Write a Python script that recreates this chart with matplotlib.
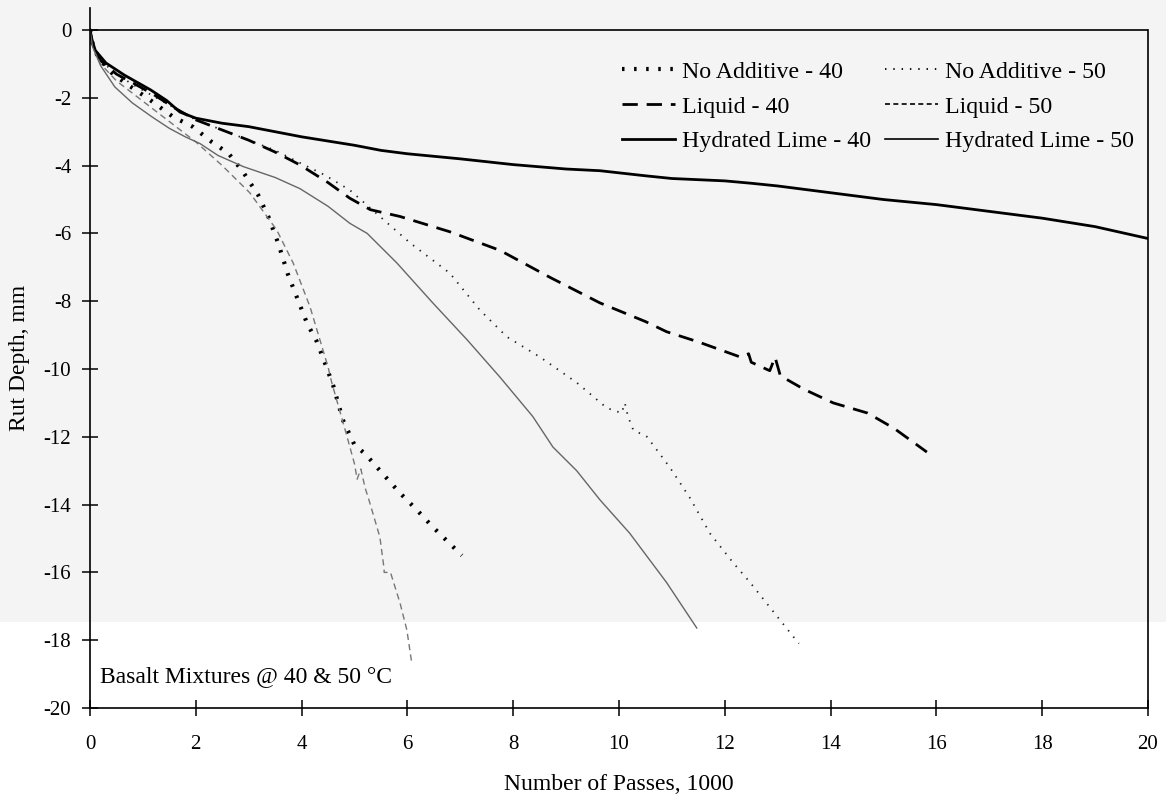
import matplotlib
matplotlib.use("Agg")
import matplotlib.pyplot as plt
from matplotlib.patches import Rectangle
from matplotlib.lines import Line2D

plt.rcParams['font.family'] = ['Liberation Serif', 'DejaVu Serif']
plt.rcParams['axes.unicode_minus'] = False

# ---- data (x in 1000 passes, y = rut depth in mm) ----
na40_x = [0, 0.05, 0.15, 0.4, 0.7, 1.08, 1.57, 1.95, 2.3, 2.62, 2.9, 3.18, 3.37, 3.56, 3.74,
          3.93, 4.1, 4.29, 4.44, 4.6, 4.78, 5.0, 5.2, 5.54, 5.86, 6.18, 6.48, 7.03]
na40_y = [0, -0.4, -0.8, -1.25, -1.6, -2.0, -2.56, -2.86, -3.3, -3.64, -4.2, -4.87, -5.5, -6.3, -7.2,
          -7.96, -8.64, -9.2, -9.82, -10.5, -11.5, -12.24, -12.5, -13.1, -13.66, -14.16, -14.66, -15.5]

na50_x = [0, 0.05, 0.2, 0.5, 0.8, 1.2, 1.6, 2.0, 2.5, 3.0, 3.5, 3.97, 4.44, 4.91, 5.48, 6.05, 6.8,
          7.37, 7.88, 8.5, 9.2, 9.77, 10.05, 10.11, 10.17, 10.27, 10.53, 10.96, 11.34, 11.72,
          12.15, 12.48, 12.99, 13.4]
na50_y = [0, -0.45, -0.9, -1.3, -1.6, -1.95, -2.3, -2.65, -2.95, -3.25, -3.55, -3.92, -4.28, -4.72,
          -5.5, -6.28, -7.17, -8.26, -9.05, -9.64, -10.4, -11.15, -11.3, -11.0, -11.4, -11.8, -12.0,
          -12.9, -13.8, -14.85, -15.7, -16.3, -17.3, -18.1]

liq40_x = [0, 0.05, 0.2, 0.5, 0.8, 1.2, 1.6, 2.0, 2.5, 3.0, 3.5, 3.97, 4.5, 4.91, 5.3, 5.86, 6.8,
           7.75, 8.7, 9.64, 10.5, 10.9, 11.5, 12.3, 12.45, 12.5, 12.85, 12.95, 13.05, 13.5, 14.05,
           14.7, 15.2, 15.82]
liq40_y = [0, -0.45, -0.9, -1.3, -1.55, -1.9, -2.3, -2.65, -2.95, -3.25, -3.6, -3.98, -4.5, -4.96,
           -5.3, -5.5, -5.95, -6.5, -7.3, -8.05, -8.6, -8.9, -9.2, -9.65, -9.55, -9.8, -10.05,
           -9.65, -10.2, -10.6, -11.0, -11.3, -11.75, -12.45]

liq50_x = [0, 0.05, 0.2, 0.5, 1.0, 1.5, 2.0, 2.5, 3.02, 3.53, 3.84, 4.16, 4.5, 4.57, 4.86, 5.0,
           5.05, 5.12, 5.2, 5.29, 5.48, 5.56, 5.56, 5.68, 5.86, 5.99, 6.08]
liq50_y = [0, -0.5, -1.0, -1.5, -2.1, -2.7, -3.3, -4.0, -4.8, -5.9, -6.87, -8.17, -9.94, -10.4,
           -12.0, -12.8, -13.25, -12.95, -13.5, -13.95, -14.96, -15.9, -16.0, -16.0, -16.9, -17.7,
           -18.65]

hl40_x = [0, 0.04, 0.1, 0.3, 0.65, 1.15, 1.45, 1.7, 2.0, 2.5, 3.0, 3.5, 4.0, 5.0, 5.5, 6.0, 7.0,
          8.0, 9.0, 9.64, 10.5, 11.0, 12.0, 12.5, 13.0, 14.0, 15.0, 16.0, 17.0, 18.0, 19.0, 20.0]
hl40_y = [0, -0.3, -0.6, -0.97, -1.33, -1.77, -2.08, -2.42, -2.6, -2.75, -2.85, -3.0, -3.15, -3.4,
          -3.55, -3.65, -3.8, -3.97, -4.1, -4.15, -4.3, -4.38, -4.45, -4.52, -4.6, -4.8, -5.0,
          -5.15, -5.35, -5.55, -5.8, -6.15]

hl50_x = [0, 0.05, 0.2, 0.47, 0.8, 1.17, 1.5, 1.8, 2.08, 2.42, 2.9, 3.5, 3.97, 4.5, 4.91, 5.24,
          5.8, 6.48, 7.13, 7.75, 8.37, 8.75, 9.2, 9.64, 10.2, 10.9, 11.47]
hl50_y = [0, -0.5, -1.05, -1.68, -2.15, -2.56, -2.9, -3.15, -3.35, -3.7, -4.03, -4.35, -4.68, -5.2,
          -5.7, -6.0, -6.87, -8.05, -9.14, -10.24, -11.4, -12.3, -13.0, -13.86, -14.84, -16.3,
          -17.64]

# legend order: column 1 = 40 °C series, column 2 = 50 °C series
labels = ["No Additive - 40", "Liquid - 40", "Hydrated Lime - 40",
          "No Additive - 50", "Liquid - 50", "Hydrated Lime - 50"]
x_ticks = [0, 2, 4, 6, 8, 10, 12, 14, 16, 18, 20]
y_ticks = [0, -2, -4, -6, -8, -10, -12, -14, -16, -18, -20]

fig = plt.figure(figsize=(11.66, 7.97), dpi=100)
fig.patch.set_facecolor('white')
fig.patches.append(Rectangle((0, 0.2196), 1, 1 - 0.2196, transform=fig.transFigure,
                             facecolor='#f4f4f4', edgecolor='none', zorder=-10))

ax = fig.add_axes([90 / 1166, 1 - 708 / 797, 1058 / 1166, 700 / 797])
ax.set_facecolor('none')

st_na40 = (0, (0.6, 2.3))
st_na50 = (0, (0.8, 3.8))
st_liq40 = (0, (5.5, 3.2))
st_liq50 = (0, (4.5, 3))

ax.plot(na40_x, na40_y, color='black', lw=3.0, linestyle=st_na40)
ax.plot(na50_x, na50_y, color='#222222', lw=1.3, linestyle=st_na50)
ax.plot(liq40_x, liq40_y, color='black', lw=2.0, linestyle=st_liq40)
ax.plot(liq50_x, liq50_y, color='#777777', lw=1.0, linestyle=st_liq50)
ax.plot(hl40_x, hl40_y, color='black', lw=2.0)
ax.plot(hl50_x, hl50_y, color='#666666', lw=1.0)

ax.axhline(0, color='black', lw=1.2)

ax.set_xlim(0, 20)
ax.set_ylim(-20, 0.65)
ax.set_xticks(x_ticks)
ax.set_yticks(y_ticks)
ax.set_xticklabels([str(t) for t in x_ticks])
ax.set_yticklabels([str(t) for t in y_ticks])

ax.spines['top'].set_visible(False)
ax.spines['right'].set_bounds(-20, 0)
for s in ['left', 'right', 'bottom']:
    ax.spines[s].set_linewidth(1.2)

ax.tick_params(axis='both', direction='inout', length=11, width=1.1, labelsize=15)
ax.tick_params(axis='x', pad=14)
ax.tick_params(axis='y', pad=8)

ax.set_xlabel("Number of Passes, 1000", fontsize=17, labelpad=14)
ax.set_ylabel("Rut Depth, mm", fontsize=17, labelpad=10)

ax.text(0.19, -19.06, "Basalt Mixtures @ 40 & 50 °C", fontsize=17, ha='left', va='center')

# legend key drawn in black as in the reference
h = [Line2D([], [], color='black', lw=3.0, linestyle=st_na40),
     Line2D([], [], color='black', lw=2.0, linestyle=st_liq40),
     Line2D([], [], color='black', lw=2.0),
     Line2D([], [], color='black', lw=1.3, linestyle=st_na50),
     Line2D([], [], color='black', lw=1.2, linestyle=(0, (3, 2))),
     Line2D([], [], color='black', lw=1.2)]
ax.legend(h, labels, ncol=2, frameon=False, loc='upper left',
          bbox_to_anchor=((622 - 90) / 1058, (708 - 61) / 700), borderpad=0,
          fontsize=17.2, handlelength=2.2, handletextpad=0.3, columnspacing=0.6,
          labelspacing=0.55, borderaxespad=0)

fig.savefig("out.png", dpi=100)
